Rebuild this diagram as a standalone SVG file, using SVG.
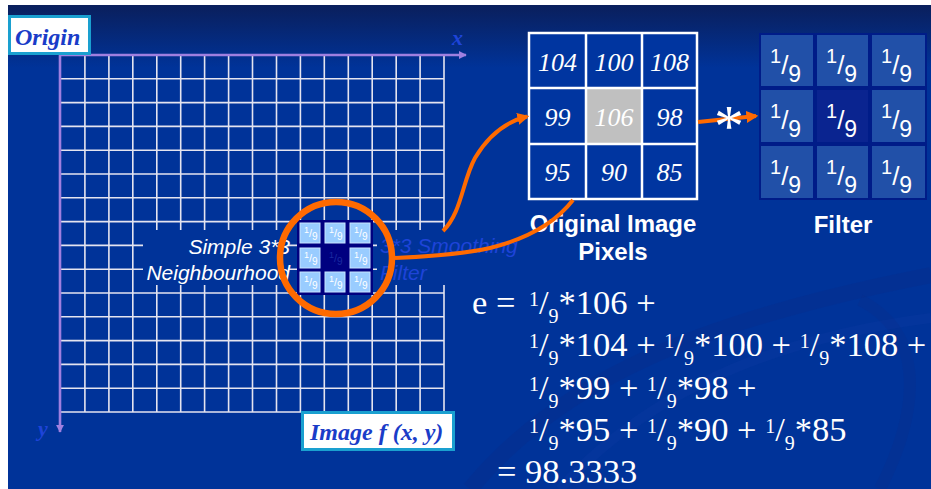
<svg xmlns="http://www.w3.org/2000/svg" width="931" height="489" viewBox="0 0 931 489">
<defs>
<linearGradient id="bg" x1="0" y1="0" x2="0" y2="1">
<stop offset="0" stop-color="#0a1f5c"/>
<stop offset="0.13" stop-color="#003399"/>
<stop offset="1" stop-color="#003399"/>
</linearGradient>
<marker id="axisHead" viewBox="0 0 10 10" refX="9" refY="5" markerWidth="3.2" markerHeight="3.2" orient="auto" markerUnits="strokeWidth">
<path d="M0,0 L10,5 L0,10 Z" fill="#a080e0"/>
</marker>
<marker id="orHead" viewBox="0 0 10 10" refX="8" refY="5" markerWidth="3" markerHeight="3" orient="auto" markerUnits="strokeWidth">
<path d="M0,0 L10,5 L0,10 Z" fill="#ff6a00"/>
</marker>
<style>
.grid{stroke:#e4e4f0;stroke-width:1.6;fill:none}
.axis{stroke:#9f7fe0;stroke-width:2.6;fill:none}
.occ{fill:#003399}
.lbl{font-family:"Liberation Sans",Arial,sans-serif;font-style:italic;font-size:21px}
.box{fill:#ffffff;stroke:#1aa0d0;stroke-width:3}
.boxt{font-family:"Liberation Serif","Times New Roman",serif;font-style:italic;font-weight:bold;font-size:24px;fill:#1a3cc8}
.axl{font-family:"Liberation Serif","Times New Roman",serif;font-style:italic;font-weight:bold;font-size:22px;fill:#1e44d8}
.pix{font-family:"Liberation Serif","Times New Roman",serif;font-style:italic;font-size:26px;fill:#ffffff;text-anchor:middle}
.cap{font-family:"Liberation Sans",Arial,sans-serif;font-weight:bold;font-size:24px;fill:#ffffff;text-anchor:middle}
.eq{font-family:"Liberation Serif","Times New Roman",serif;font-size:34.5px;fill:#ffffff}
.fr{font-size:20px}
.ft{font-family:"Liberation Sans",Arial,sans-serif;fill:#ffffff}
.st{font-family:"Liberation Sans",Arial,sans-serif;fill:#ffffff}
.orange{stroke:#ff6a00;fill:none}
.fcell{fill:#2150a8}
.scell{fill:#99ccff;stroke:#c8e4ff;stroke-width:1}
</style>
</defs>

<rect x="0" y="0" width="931" height="489" fill="#ffffff"/>
<rect x="8" y="5" width="923" height="484" fill="url(#bg)"/>
<g id="swoosh" fill="none">
<path d="M470,489 C560,380 700,320 931,275" stroke="#0a2c88" stroke-width="16" opacity="0.3"/>
<path d="M560,489 C640,400 760,340 931,318" stroke="#1a44b0" stroke-width="10" opacity="0.15"/>
<path d="M860,300 C920,330 925,400 880,489" stroke="#0a2c88" stroke-width="12" opacity="0.25"/>
</g>

<g id="image-grid">
<path class="grid" d="M61,78.8H444M61,102.6H444M61,126.4H444M61,150.2H444M61,174H444M61,197.8H444M61,221.6H444M61,245.4H444M61,269.2H444M61,293H444M61,316.8H444M61,340.6H444M61,364.4H444M61,388.2H444M61,412H444"/>
<path class="grid" d="M84.9,55V412M108.9,55V412M132.8,55V412M156.8,55V412M180.7,55V412M204.6,55V412M228.6,55V412M252.5,55V412M276.5,55V412M300.4,55V412M324.3,55V412M348.3,55V412M372.2,55V412M396.2,55V412M420.1,55V412M444,55V412"/>
<rect class="occ" x="143" y="230" width="145" height="55"/>
<rect class="occ" x="377" y="230" width="70" height="55"/>
<line class="axis" x1="60" y1="55" x2="466" y2="55" marker-end="url(#axisHead)"/>
<line class="axis" x1="60" y1="55" x2="60" y2="432" marker-end="url(#axisHead)"/>
<text class="axl" x="452" y="45">x</text>
<text class="axl" x="38" y="436">y</text>
</g>

<g id="origin-label">
<rect class="box" x="9.5" y="16.5" width="80" height="37"/>
<text class="boxt" x="15" y="45">Origin</text>
</g>

<g id="image-label">
<rect class="box" x="302.5" y="412.5" width="151" height="37"/>
<text class="boxt" x="310" y="440">Image f (x, y)</text>
</g>

<g id="neighbourhood-label">
<text class="lbl" fill="#ffffff" text-anchor="end" x="290" y="254">Simple 3*3</text>
<text class="lbl" fill="#ffffff" text-anchor="end" x="290" y="280">Neighbourhood</text>
</g>

<g id="smoothing-label">
<text class="lbl" fill="#1e44d8" x="380" y="253">3*3 Smoothing</text>
<text class="lbl" fill="#1e44d8" x="380" y="280">Filter</text>
</g>

<g id="small-filter">
<rect x="297" y="220" width="76" height="75" fill="#000080"/>
<rect class="scell" x="300" y="223" width="20" height="20"/>
<rect class="scell" x="325" y="223" width="20" height="20"/>
<rect class="scell" x="350" y="223" width="20" height="20"/>
<rect class="scell" x="300" y="248" width="20" height="20"/>
<rect class="scell" x="350" y="248" width="20" height="20"/>
<rect class="scell" x="300" y="272" width="20" height="20"/>
<rect class="scell" x="325" y="272" width="20" height="20"/>
<rect class="scell" x="350" y="272" width="20" height="20"/>
<g class="st">
<text x="304" y="233" font-size="9">1<tspan font-size="11" dy="4">/</tspan><tspan font-size="10" dy="3">9</tspan></text>
<text x="329" y="233" font-size="9">1<tspan font-size="11" dy="4">/</tspan><tspan font-size="10" dy="3">9</tspan></text>
<text x="354" y="233" font-size="9">1<tspan font-size="11" dy="4">/</tspan><tspan font-size="10" dy="3">9</tspan></text>
<text x="304" y="258" font-size="9">1<tspan font-size="11" dy="4">/</tspan><tspan font-size="10" dy="3">9</tspan></text>
<text x="329" y="258" font-size="9" fill="#1a2aa0">1<tspan font-size="11" dy="4">/</tspan><tspan font-size="10" dy="3">9</tspan></text>
<text x="354" y="258" font-size="9">1<tspan font-size="11" dy="4">/</tspan><tspan font-size="10" dy="3">9</tspan></text>
<text x="304" y="282" font-size="9">1<tspan font-size="11" dy="4">/</tspan><tspan font-size="10" dy="3">9</tspan></text>
<text x="329" y="282" font-size="9">1<tspan font-size="11" dy="4">/</tspan><tspan font-size="10" dy="3">9</tspan></text>
<text x="354" y="282" font-size="9">1<tspan font-size="11" dy="4">/</tspan><tspan font-size="10" dy="3">9</tspan></text>
</g>
</g>

<g id="pixels">
<rect x="529" y="33" width="168" height="166" fill="#0035a0"/>
<rect x="586" y="88" width="56" height="56" fill="#c0c0c0"/>
<path d="M529,33H697V199H529ZM586,33V199M642,33V199M529,88H697M529,144H697" fill="none" stroke="#ffffff" stroke-width="2.5"/>
<text class="pix" x="557.5" y="71">104</text>
<text class="pix" x="614" y="71">100</text>
<text class="pix" x="669.5" y="71">108</text>
<text class="pix" x="557.5" y="126">99</text>
<text class="pix" x="614" y="126" fill="#f4f4f4">106</text>
<text class="pix" x="669.5" y="126">98</text>
<text class="pix" x="557.5" y="181">95</text>
<text class="pix" x="614" y="181">90</text>
<text class="pix" x="669.5" y="181">85</text>
<text class="cap" x="613" y="232">Original Image</text>
<text class="cap" x="613" y="260">Pixels</text>
</g>

<g id="filter">
<rect x="759" y="33" width="168" height="167" fill="#001c88"/>
<rect class="fcell" x="761" y="35" width="52" height="51"/>
<rect class="fcell" x="817" y="35" width="51" height="51"/>
<rect class="fcell" x="872" y="35" width="53" height="51"/>
<rect class="fcell" x="761" y="90" width="52" height="52"/>
<rect x="817" y="90" width="51" height="52" fill="#0a2490"/>
<rect class="fcell" x="872" y="90" width="53" height="52"/>
<rect class="fcell" x="761" y="146" width="52" height="52"/>
<rect class="fcell" x="817" y="146" width="51" height="52"/>
<rect class="fcell" x="872" y="146" width="53" height="52"/>
<g class="ft">
<text x="770" y="63" font-size="20">1<tspan font-size="26" dy="11">/</tspan><tspan font-size="23" dy="8">9</tspan></text>
<text x="826" y="63" font-size="20">1<tspan font-size="26" dy="11">/</tspan><tspan font-size="23" dy="8">9</tspan></text>
<text x="881" y="63" font-size="20">1<tspan font-size="26" dy="11">/</tspan><tspan font-size="23" dy="8">9</tspan></text>
<text x="770" y="118" font-size="20">1<tspan font-size="26" dy="11">/</tspan><tspan font-size="23" dy="8">9</tspan></text>
<text x="826" y="118" font-size="20">1<tspan font-size="26" dy="11">/</tspan><tspan font-size="23" dy="8">9</tspan></text>
<text x="881" y="118" font-size="20">1<tspan font-size="26" dy="11">/</tspan><tspan font-size="23" dy="8">9</tspan></text>
<text x="770" y="174" font-size="20">1<tspan font-size="26" dy="11">/</tspan><tspan font-size="23" dy="8">9</tspan></text>
<text x="826" y="174" font-size="20">1<tspan font-size="26" dy="11">/</tspan><tspan font-size="23" dy="8">9</tspan></text>
<text x="881" y="174" font-size="20">1<tspan font-size="26" dy="11">/</tspan><tspan font-size="23" dy="8">9</tspan></text>
</g>
<text class="cap" x="843" y="233">Filter</text>
</g>

<g id="highlight-circle">
<circle class="orange" cx="336" cy="258" r="56" stroke-width="6.5"/>
</g>

<g id="connectors">
<path class="orange" stroke-width="4" d="M443,231 C462,212 462,182 475,158 C488,136 505,122 527,116.5" marker-end="url(#orHead)"/>
<path class="orange" stroke-width="4" d="M395,258 C440,256 468,253 490,248 C530,238 556,222 573,200"/>
<path class="orange" stroke-width="4" d="M698,122 L756,116" marker-end="url(#orHead)"/>
</g>

<g id="convolution-op">
<text x="729" y="146" font-family="'Liberation Serif','Times New Roman',serif" font-size="60" fill="#ffffff" text-anchor="middle">*</text>
</g>

<g id="equation" class="eq">
<text x="472" y="314">e = <tspan x="529" class="fr" dy="-8">1</tspan><tspan dy="8">/</tspan><tspan class="fr" dy="9">9</tspan><tspan dy="-9">*106 +</tspan></text>
<text x="529" y="356"><tspan class="fr" dy="-8">1</tspan><tspan dy="8">/</tspan><tspan class="fr" dy="9">9</tspan><tspan dy="-9">*104 + </tspan><tspan class="fr" dy="-8">1</tspan><tspan dy="8">/</tspan><tspan class="fr" dy="9">9</tspan><tspan dy="-9">*100 + </tspan><tspan class="fr" dy="-8">1</tspan><tspan dy="8">/</tspan><tspan class="fr" dy="9">9</tspan><tspan dy="-9">*108 +</tspan></text>
<text x="529" y="399"><tspan class="fr" dy="-8">1</tspan><tspan dy="8">/</tspan><tspan class="fr" dy="9">9</tspan><tspan dy="-9">*99 + </tspan><tspan class="fr" dy="-8">1</tspan><tspan dy="8">/</tspan><tspan class="fr" dy="9">9</tspan><tspan dy="-9">*98 +</tspan></text>
<text x="529" y="441"><tspan class="fr" dy="-8">1</tspan><tspan dy="8">/</tspan><tspan class="fr" dy="9">9</tspan><tspan dy="-9">*95 + </tspan><tspan class="fr" dy="-8">1</tspan><tspan dy="8">/</tspan><tspan class="fr" dy="9">9</tspan><tspan dy="-9">*90 + </tspan><tspan class="fr" dy="-8">1</tspan><tspan dy="8">/</tspan><tspan class="fr" dy="9">9</tspan><tspan dy="-9">*85</tspan></text>
<text x="497" y="483">= 98.3333</text>
</g>
</svg>
